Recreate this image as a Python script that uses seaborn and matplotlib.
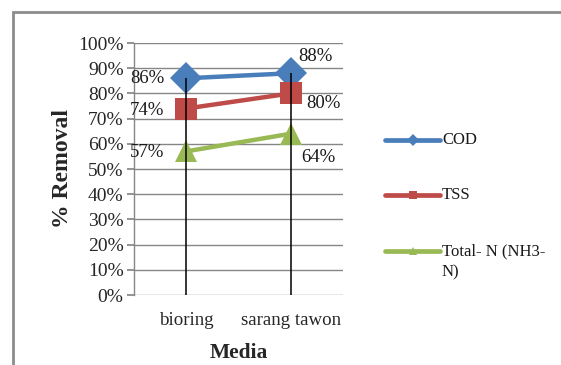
import matplotlib
matplotlib.use("Agg")
import matplotlib.pyplot as plt
import seaborn as sns
import pandas as pd
from matplotlib.patches import Rectangle
from matplotlib.lines import Line2D

media = ["bioring", "sarang tawon"]
cod = [0.86, 0.88]
tss = [0.74, 0.80]
total_n = [0.57, 0.64]
series_names = ["COD", "TSS", "Total- N (NH3-\nN)"]
colors = ["#4A7EBB", "#BE4B48", "#98B954"]
markers = ["D", "s", "^"]
yticks = [0, .1, .2, .3, .4, .5, .6, .7, .8, .9, 1.0]

rows = []
for name, vals in zip(series_names, [cod, tss, total_n]):
    for m, v in zip(media, vals):
        rows.append({"Media": m, "value": v, "series": name})
df = pd.DataFrame(rows)

sns.set_theme(style="white")
plt.rcParams["font.family"] = ["Liberation Serif", "DejaVu Serif"]

fig = plt.figure(figsize=(5.61, 3.65), dpi=100)
ax = fig.add_axes([134 / 561, 1 - 295 / 365, 209 / 561, 252 / 365])

sns.lineplot(data=df, x="Media", y="value", hue="series", style="series",
             palette=colors, markers=markers, dashes=False, linewidth=3.2,
             markersize=16, markeredgewidth=0, sort=False, ax=ax, legend=False,
             zorder=3)

# drop lines from the axis to the highest point of each category
for i, m in enumerate(media):
    top = max(cod[i], tss[i], total_n[i])
    ax.vlines(i, 0, top, color="black", linewidth=1.1, zorder=5)

ax.set_xlim(-0.5, 1.5)
ax.set_ylim(0, 1.0)
ax.set_yticks(yticks)
ax.set_yticklabels([f"{int(round(t * 100))}%" for t in yticks], fontsize=14)
ax.tick_params(axis="x", labelsize=13.6, pad=12, length=0)
ax.tick_params(axis="y", length=5, color="#868686", direction="out", pad=2.5, left=True)
ax.yaxis.grid(True, color="#868686", linewidth=1)
ax.set_axisbelow(True)
for side in ["top", "right", "bottom"]:
    ax.spines[side].set_visible(False)
ax.spines["left"].set_color("#868686")
ax.spines["left"].set_linewidth(1)
ax.set_xlabel("Media", fontsize=15.5, fontweight="bold", labelpad=10)
ax.set_ylabel("% Removal", fontsize=17, fontweight="bold", labelpad=4)

# value labels: left of the first category, right of the second
label_style = {
    (0, 0): (-16, 0, "right"), (1, 0): (5.5, 11.8, "left"),
    (0, 1): (-16, -1.5, "right"), (1, 1): (11.5, -7.3, "left"),
    (0, 2): (-16, -1, "right"), (1, 2): (7.6, -17, "left"),
}
for s, vals in enumerate([cod, tss, total_n]):
    for i, v in enumerate(vals):
        dx, dy, ha = label_style[(i, s)]
        ax.annotate(f"{int(round(v * 100))}%", (i, v), xytext=(dx, dy),
                    textcoords="offset points", fontsize=13.5, va="center",
                    ha=ha, color="#1a1a1a", zorder=6)

# legend: swatch line with a small marker, label aligned to the first text line
legend_y = [140, 195, 251]
for name, c, mk, yy in zip(series_names, colors, markers, legend_y):
    yf = 1 - yy / 365
    fig.add_artist(Line2D([385 / 561, 440 / 561], [yf, yf], color=c,
                          linewidth=3.4, solid_capstyle="round",
                          transform=fig.transFigure))
    fig.add_artist(Line2D([412.5 / 561], [yf], color=c, marker=mk,
                          markersize=6, markeredgewidth=0,
                          transform=fig.transFigure))
    fig.text(442 / 561, yf + 8 / 365, name, fontsize=12, va="top", ha="left",
             transform=fig.transFigure, linespacing=1.45, color="#1a1a1a")

# outer chart border
fig.patches.append(Rectangle((13 / 561, -0.1), 1.1, 1 - 12 / 365 + 0.1,
                             transform=fig.transFigure, fill=False,
                             edgecolor="#8c8c8c", linewidth=2))

fig.savefig("out.png", dpi=100)
